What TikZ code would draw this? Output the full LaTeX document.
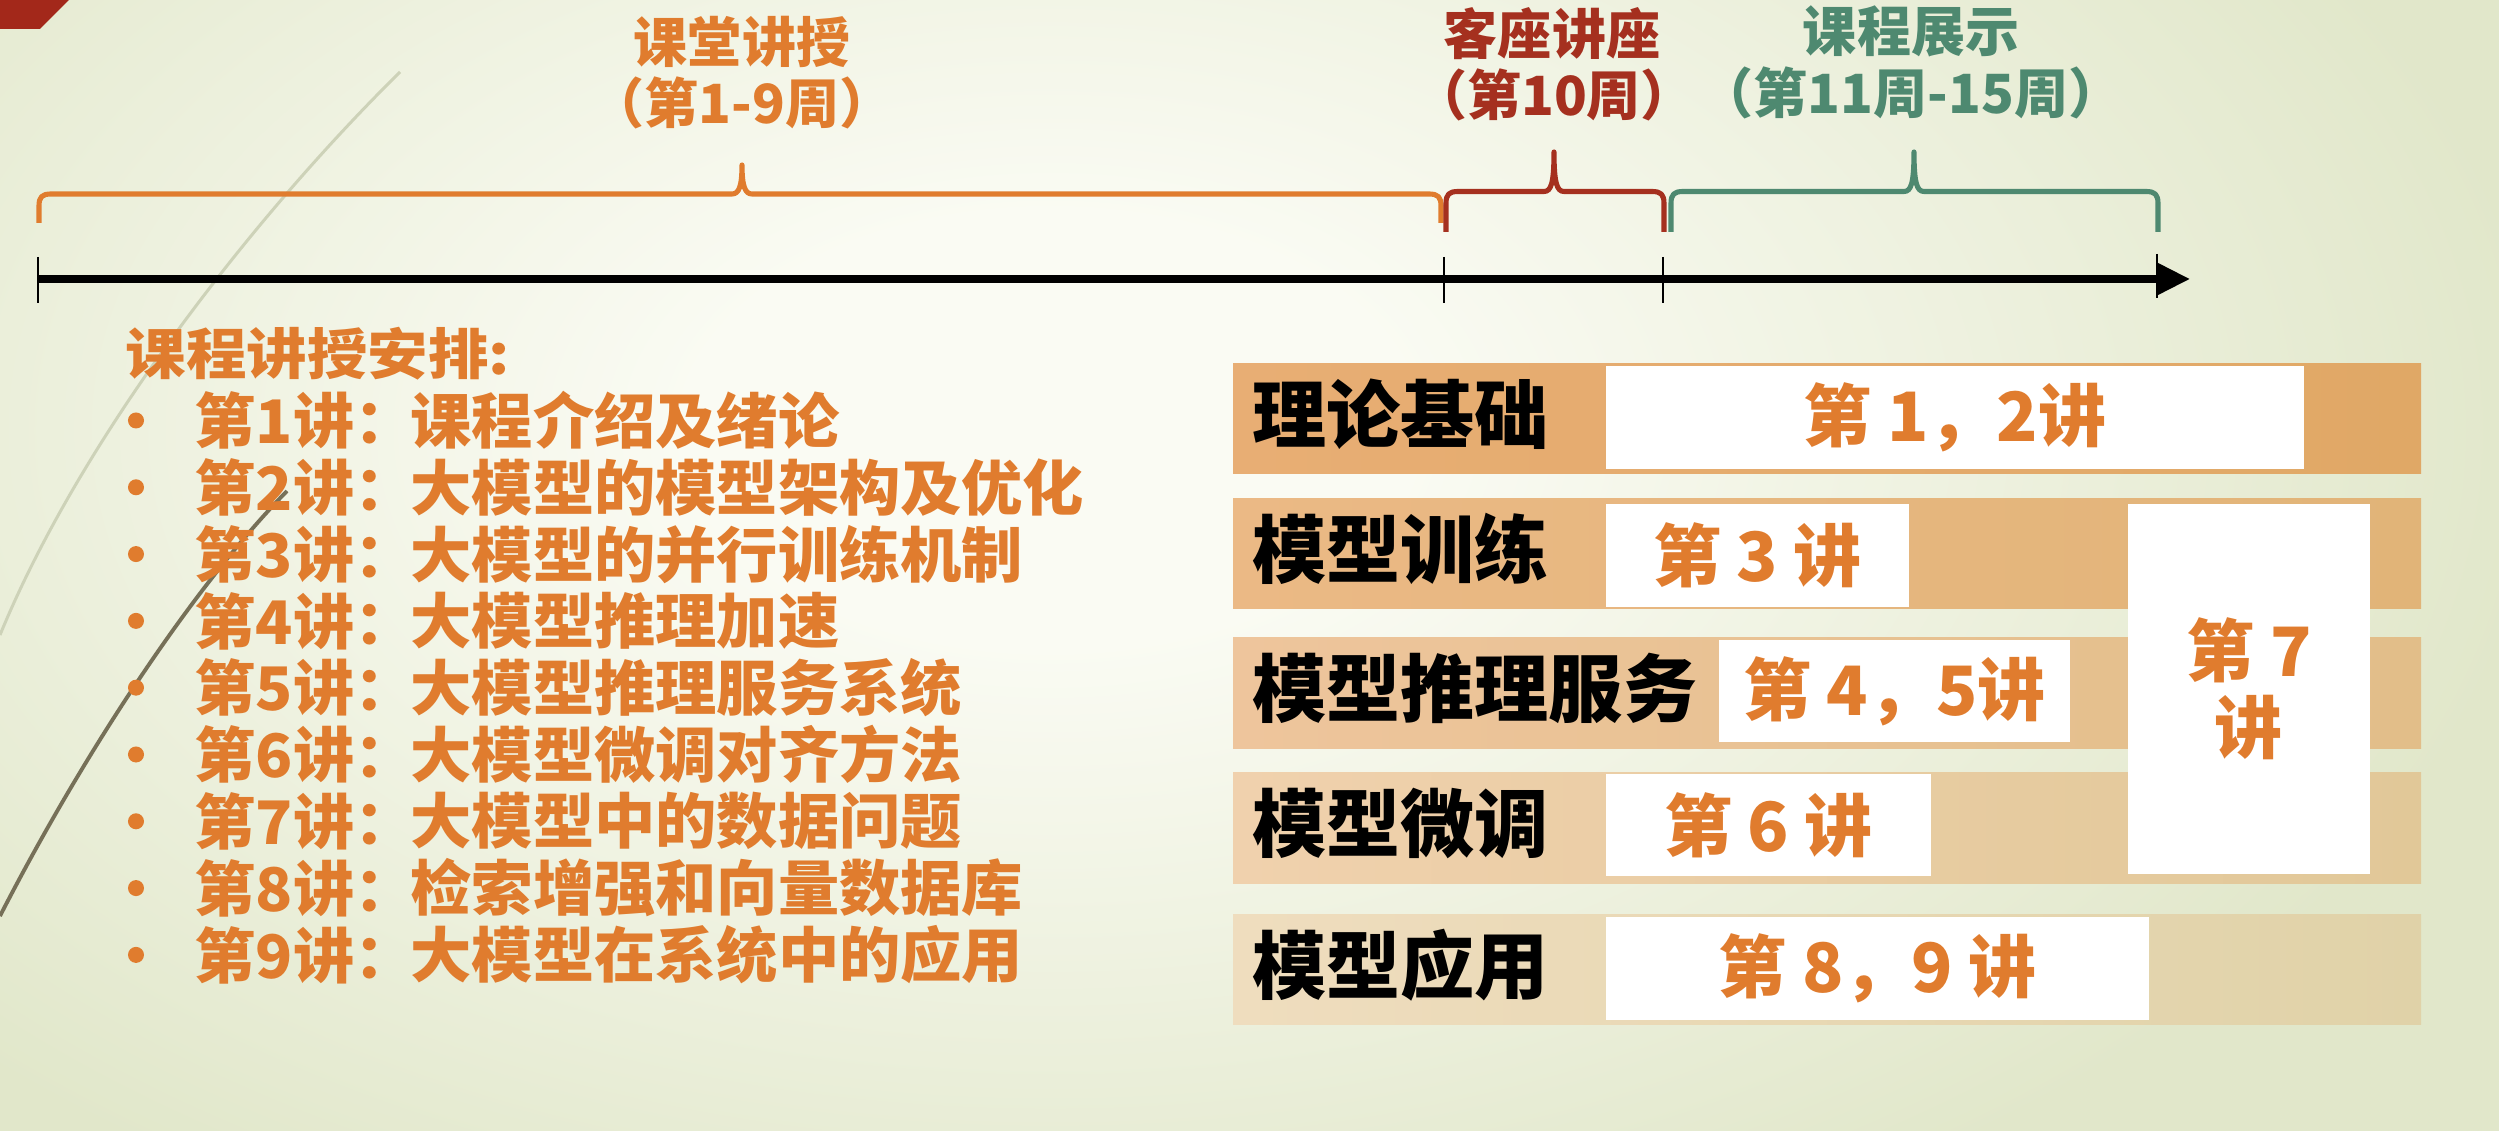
\documentclass[tikz,border=0pt]{standalone}
\usepackage{fontspec}
\newfontfamily\cjk{Noto Sans CJK SC}
\newfontfamily\cjkwide{Noto Sans CJK SC}[FakeStretch=1.1]
\newfontfamily\cjklist{Noto Sans CJK SC}[FakeStretch=1.02]
\usetikzlibrary{arrows.meta}
\definecolor{bgin}{HTML}{FAFBF3}
\definecolor{bgout}{HTML}{E1E7CA}
\definecolor{org}{HTML}{E07C2E}
\definecolor{redb}{HTML}{A5301F}
\definecolor{grn}{HTML}{4E8970}
\definecolor{tri}{HTML}{A3281A}
\definecolor{arcl}{HTML}{CDD2B8}
\definecolor{arcd}{HTML}{767058}
\definecolor{rAl}{HTML}{E8AE74}\definecolor{rAr}{HTML}{E0A866}
\definecolor{rBl}{HTML}{EBB985}\definecolor{rBr}{HTML}{E1B478}
\definecolor{rCl}{HTML}{EEC59C}\definecolor{rCr}{HTML}{E2BE89}
\definecolor{rDl}{HTML}{F0D1AD}\definecolor{rDr}{HTML}{E1C898}
\definecolor{rEl}{HTML}{EFDDBE}\definecolor{rEr}{HTML}{E0D2A8}
\pgfdeclareradialshading{bgrad}{\pgfpoint{0bp}{0bp}}{color(0bp)=(bgin); color(6bp)=(bgin); color(25bp)=(bgout); color(50bp)=(bgout)}
\newcommand{\tlbrace}[6]{%
 \draw (#1,#6) -- (#1,#4+12) .. controls (#1,#4+3) and (#1+3,#4) .. (#1+12,#4)
  -- (#3-10,#4) .. controls (#3-3,#4) and (#3,#4-8) .. (#3,#5)
  .. controls (#3,#4-8) and (#3+3,#4) .. (#3+10,#4)
  -- (#2-12,#4) .. controls (#2-3,#4) and (#2,#4+3) .. (#2,#4+12) -- (#2,#6);}
\tikzset{
 toplabel/.style={font=\cjk\bfseries\fontsize{15.36}{17}\selectfont, inner sep=0pt, anchor=center},
 bracepath/.style={line width=1.45pt, line join=round},
 tick/.style={line width=0.8pt},
 rowlabel/.style={font=\cjk\bfseries\fontsize{21.06}{24}\selectfont, inner sep=0pt, anchor=west, text=black},
 whitebox/.style={fill=white, draw=none, inner sep=0pt, text=org, align=center,
   font=\cjk\bfseries\fontsize{19.35}{21.9}\selectfont},
 listtext/.style={font=\cjklist\bfseries\fontsize{17.07}{19}\selectfont, inner sep=0pt, anchor=west, text=org},
 titletext/.style={font=\cjkwide\bfseries\fontsize{15.65}{18}\selectfont, inner sep=0pt, anchor=west, text=org},
}
\begin{document}
\begin{tikzpicture}[x=0.01cm,y=-0.01cm]
\useasboundingbox (0,0) rectangle (2499,1131);
% background
\fill[bgout] (0,0) rectangle (2499,1131);
\begin{scope}
 \clip (0,0) rectangle (2499,1131);
 \shade[shading=bgrad] (1050,430) ellipse [x radius=15cm, y radius=9cm];
\end{scope}
% decorative arcs
\draw[arcl, line width=0.85pt] (400,72) .. controls (250,220) and (80,440) .. (0,635);
\draw[arcd, line width=1.1pt] (287,491) .. controls (190,590) and (80,760) .. (0,916);
\fill[tri] (0,0) -- (69,0) -- (40,29) -- (0,29) -- cycle;
% top labels
\node[toplabel, text=org] (l1a) at (742,41.5) {课堂讲授};
\node[toplabel, text=org] (l1b) at (742,103) {（第1-9周）};
\node[toplabel, text=redb] (l2a) at (1552,34) {客座讲座};
\node[toplabel, text=redb] (l2b) at (1554,95) {（第10周）};
\node[toplabel, text=grn] (l3a) at (1911,31.5) {课程展示};
\node[toplabel, text=grn] (l3b) at (1911,93) {（第11周-15周）};
% braces
\begin{scope}[bracepath, draw=org]\tlbrace{39}{1441}{742}{194}{165}{223}\end{scope}
\begin{scope}[bracepath, draw=redb]\tlbrace{1446}{1664}{1554}{191.5}{152}{232}\end{scope}
\begin{scope}[bracepath, draw=grn]\tlbrace{1671}{2158}{1914}{191.5}{152}{232}\end{scope}
% axis
\coordinate (a0) at (38,279);
\coordinate (a1) at (2190,279);
\draw[line width=2pt, -{Triangle[length=0.33cm,width=0.31cm]}] (a0) -- (a1);
\coordinate (k0t) at (38,257); \coordinate (k0b) at (38,303);
\coordinate (k1t) at (1444,257); \coordinate (k1b) at (1444,303);
\coordinate (k2t) at (1663,257); \coordinate (k2b) at (1663,303);
\coordinate (k3t) at (2157,254); \coordinate (k3b) at (2157,298);
\draw[tick] (k0t) -- (k0b);
\draw[tick] (k1t) -- (k1b);
\draw[tick] (k2t) -- (k2b);
\draw[tick] (k3t) -- (k3b);
% list
\node[titletext] (ltitle) at (125,354) {课程讲授安排:};
\foreach \i/\a/\b in {1/第1讲：/课程介绍及绪论,
                      2/第2讲：/大模型的模型架构及优化,
                      3/第3讲：/大模型的并行训练机制,
                      4/第4讲：/大模型推理加速,
                      5/第5讲：/大模型推理服务系统,
                      6/第6讲：/大模型微调对齐方法,
                      7/第7讲：/大模型中的数据问题,
                      8/第8讲：/检索增强和向量数据库,
                      9/第9讲：/大模型在系统中的应用}{
  \pgfmathsetmacro{\yy}{420.5+(\i-1)*66.8}
  \fill[org] (136,\yy) circle [radius=0.08cm];
  \node[listtext] (p\i) at (194,\yy) {\a};
  \node[listtext] (c\i) at (410,\yy) {\b};
}
% rows
\shade[left color=rAl, right color=rAr] (1233,364) rectangle (2421,474);
\shade[left color=rBl, right color=rBr] (1233,499) rectangle (2421,609);
\shade[left color=rCl, right color=rCr] (1233,638) rectangle (2421,749);
\shade[left color=rDl, right color=rDr] (1233,773) rectangle (2421,884);
\shade[left color=rEl, right color=rEr] (1233,915) rectangle (2421,1025);
\node[rowlabel] (n1) at (1252,414) {理论基础};
\node[rowlabel] (n2) at (1252,549) {模型训练};
\node[rowlabel] (n3) at (1252,688.5) {模型推理服务};
\node[rowlabel] (n4) at (1252,823.5) {模型微调};
\node[rowlabel] (n5) at (1252,965) {模型应用};
\node[whitebox, minimum width=6.98cm, minimum height=1.03cm] (w1) at (1955,417.5) {第 1，2讲};
\node[whitebox, minimum width=3.03cm, minimum height=1.03cm] (w2) at (1757.5,555.5) {第 3 讲};
\node[whitebox, minimum width=3.51cm, minimum height=1.02cm] (w3) at (1894.5,691) {第 4，5讲};
\node[whitebox, minimum width=3.25cm, minimum height=1.02cm] (w4) at (1768.5,825) {第 6 讲};
\node[whitebox, minimum width=5.43cm, minimum height=1.03cm] (w5) at (1877.5,968.5) {第 8，9 讲};
\node[whitebox, minimum width=2.42cm, minimum height=3.70cm] (w7) at (2249,689) {第 7\\讲};
\end{tikzpicture}
\end{document}
